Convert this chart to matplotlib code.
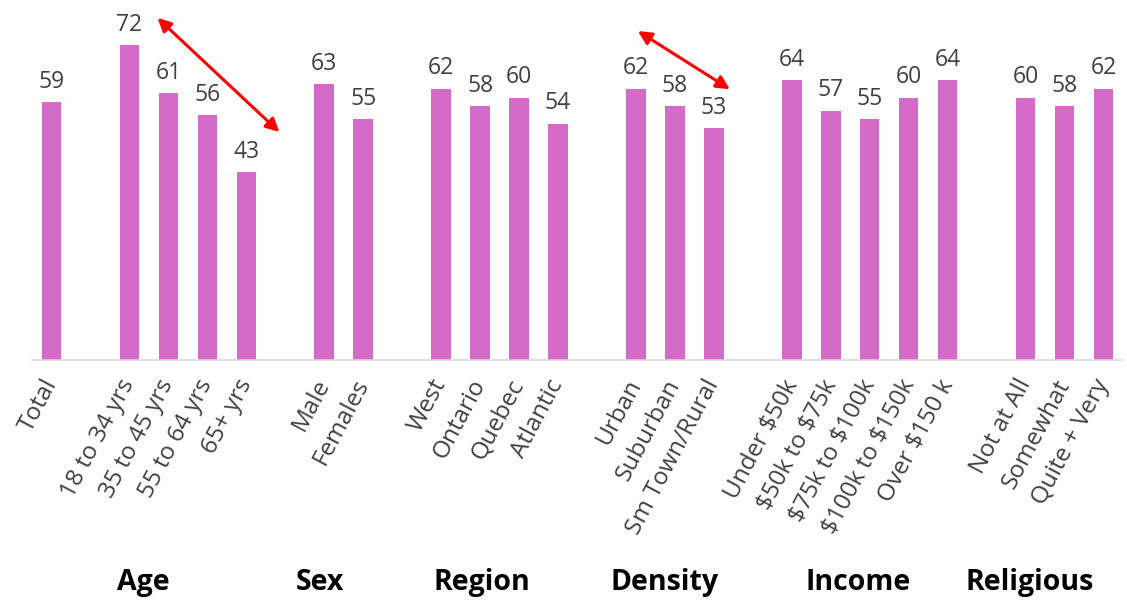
import matplotlib.pyplot as plt
from matplotlib.transforms import blended_transform_factory

plt.rcParams['font.family'] = ['Open Sans', 'DejaVu Sans']

# Slot index of each bar; empty slots separate the groups
positions = [0, 2, 3, 4, 5, 7, 8, 10, 11, 12, 13, 15, 16, 17, 19, 20, 21, 22, 23, 25, 26, 27]
labels = [
    "Total",
    "18 to 34 yrs", "35 to 45 yrs", "55 to 64 yrs", "65+ yrs",
    "Male", "Females",
    "West", "Ontario", "Quebec", "Atlantic",
    "Urban", "Suburban", "Sm Town/Rural",
    "Under \\$50k", "\\$50k to \\$75k", "\\$75k to \\$100k", "\\$100k to \\$150k", "Over \\$150 k",
    "Not at All", "Somewhat", "Quite + Very",
]
values = [59, 72, 61, 56, 43, 63, 55, 62, 58, 60, 54, 62, 58, 53, 64, 57, 55, 60, 64, 60, 58, 62]

group_names = ["Age", "Sex", "Region", "Density", "Income", "Religious"]
group_centers = [2.36, 6.9, 11.05, 15.74, 20.7, 25.1]

# double-headed trend arrows (x slot, value)
arrow_age = [(2.72, 78.2), (5.85, 52.1)]
arrow_density = [(15.05, 75.2), (17.41, 61.9)]

bar_color = "#D56BC9"
text_gray = "#404040"

fig = plt.figure(figsize=(11.27, 6.0), dpi=100)
ax = fig.add_axes([32 / 1127, 0.4, 1091 / 1127, 0.6])

ax.bar(positions, values, width=0.5, color=bar_color, zorder=2)
for x, v in zip(positions, values):
    ax.annotate(str(v), (x, v), xytext=(0, 6), textcoords="offset points",
                ha="center", va="bottom", fontsize=16.5, color=text_gray)

ax.set_xlim(-0.5, 27.5)
ax.set_ylim(0, 82.3)
ax.set_yticks([])
for side in ["top", "right", "left"]:
    ax.spines[side].set_visible(False)
ax.spines["bottom"].set_color("#D9D9D9")
ax.spines["bottom"].set_linewidth(1.2)

ax.set_xticks(positions)
ax.set_xticklabels(labels, rotation=62, ha="right", va="center",
                   rotation_mode="anchor", fontsize=17.5, color=text_gray)
ax.tick_params(axis="x", length=0, pad=15)

# group captions under the rotated labels
trans = blended_transform_factory(ax.transData, ax.transAxes)
for name, cx in zip(group_names, group_centers):
    ax.text(cx, -0.617, name, transform=trans, ha="center", va="center",
            fontsize=20.5, fontweight="bold", color="black")

for (x0, y0), (x1, y1) in [arrow_age, arrow_density]:
    ax.annotate("", xy=(x1, y1), xytext=(x0, y0),
                arrowprops=dict(arrowstyle="<|-|>", color="#FF0000", lw=2.2,
                                mutation_scale=20, shrinkA=0, shrinkB=0),
                annotation_clip=False)

fig.savefig("out.png", dpi=100)
